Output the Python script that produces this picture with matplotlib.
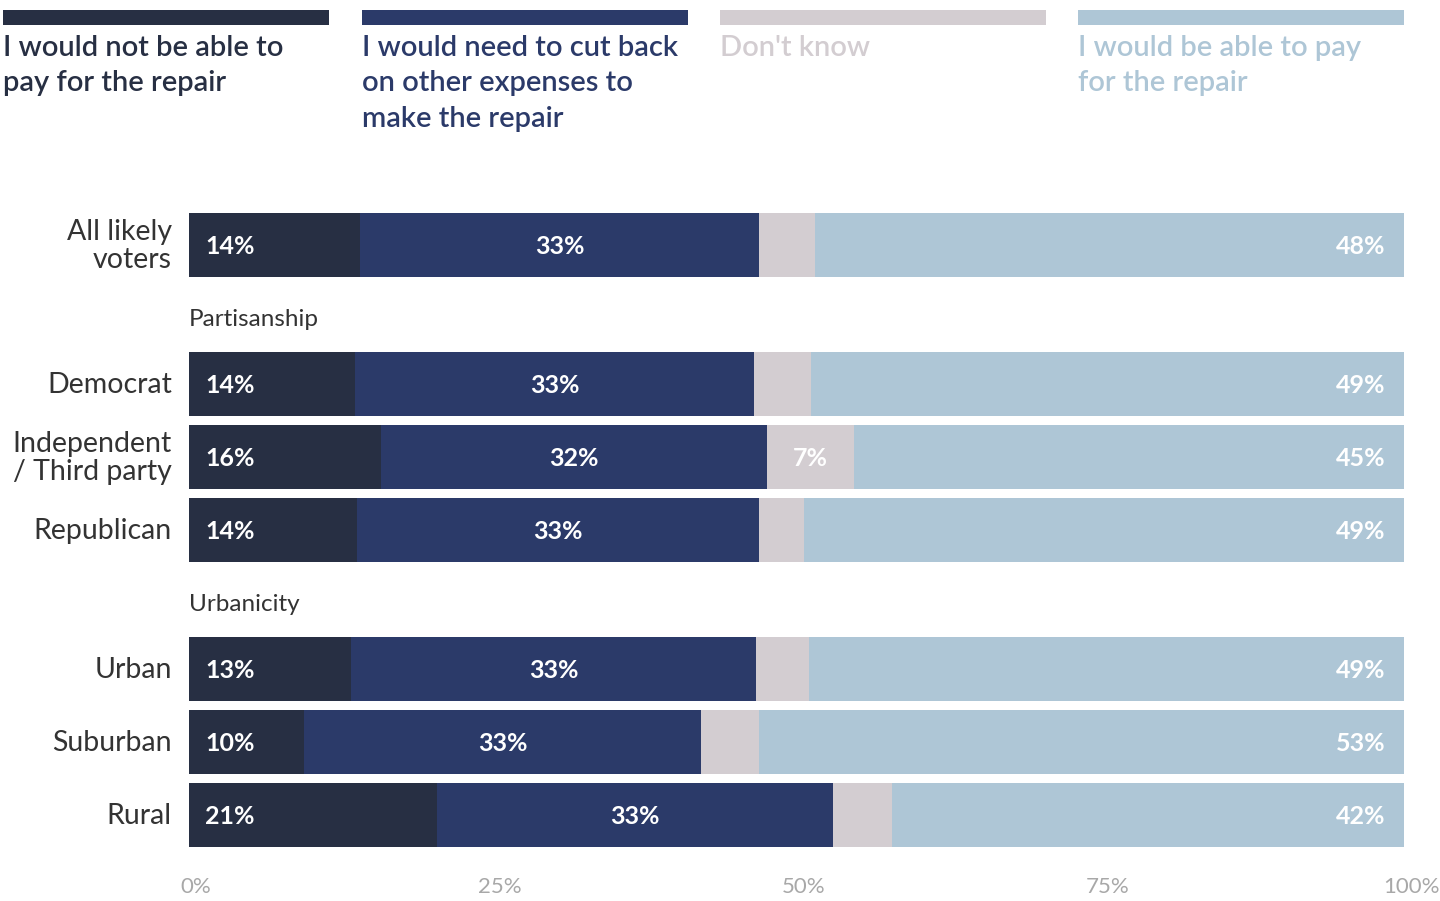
import matplotlib
matplotlib.use('Agg')
import matplotlib.pyplot as plt
import matplotlib.transforms as mtransforms
from matplotlib.patches import Rectangle
###############################################################################
plt.rcParams['font.family'] = ['Lato', 'DejaVu Sans']

categories = ['All likely\nvoters', 'Democrat', 'Independent\n/ Third party', 'Republican',
              'Urban', 'Suburban', 'Rural']
groups = ['', 'Partisanship', 'Partisanship', 'Partisanship',
          'Urbanicity', 'Urbanicity', 'Urbanicity']

series_names = ['I would not be able to\npay for the repair',
                'I would need to cut back\non other expenses to\nmake the repair',
                "Don't know",
                'I would be able to pay\nfor the repair']

cannot_pay = [14.1, 13.7, 15.8, 13.8, 13.3, 9.5, 20.4]
cut_back = [32.8, 32.8, 31.8, 33.1, 33.4, 32.6, 32.6]
dont_know = [4.6, 4.7, 7.1, 3.7, 4.3, 4.8, 4.9]
able_pay = [48.5, 48.8, 45.3, 49.4, 49.1, 53.1, 42.1]

cannot_lbl = [14, 14, 16, 14, 13, 10, 21]
cut_lbl = [33, 33, 32, 33, 33, 33, 33]
dk_lbl = [None, None, 7, None, None, None, None]
able_lbl = [48, 49, 45, 49, 49, 53, 42]

x_ticks = [0, 25, 50, 75, 100]
###############################################################################
COLORS = ['#272f43', '#2b3a69', '#d3cdd1', '#aec6d6']
TEXT = '#333333'

fig = plt.figure(figsize=(14.4, 9.01), dpi=100)
W, H = 1440, 901
ax = fig.add_axes([189 / W, (H - 860) / H, 1215 / W, 660 / H])

# row positions (units of one row pitch), with room for group headers
ypos, headers = [], []
y = 0.0
for i, g in enumerate(groups):
    if i > 0:
        if g != groups[i - 1]:
            headers.append((ypos[-1] + 1.02, g))
            y = ypos[-1] + 1.904
        else:
            y = ypos[-1] + 1.0
    ypos.append(y)

series = [cannot_pay, cut_back, dont_know, able_pay]
lefts = [0.0] * len(categories)
for s, vals in enumerate(series):
    ax.barh(ypos, vals, left=lefts, height=0.877, color=COLORS[s], linewidth=0)
    lefts = [l + v for l, v in zip(lefts, vals)]

for i, yy in enumerate(ypos):
    ty = yy + 0.025
    ax.text(1.35, ty, f'{cannot_lbl[i]}%', color='white', fontsize=18,
            fontweight='bold', ha='left', va='center')
    c = cannot_pay[i] + cut_back[i] / 2
    ax.text(c, ty, f'{cut_lbl[i]}%', color='white', fontsize=18,
            fontweight='bold', ha='center', va='center')
    if dk_lbl[i] is not None:
        c = cannot_pay[i] + cut_back[i] + dont_know[i] / 2
        ax.text(c, ty, f'{dk_lbl[i]}%', color='white', fontsize=18,
                fontweight='bold', ha='center', va='center')
    ax.text(98.5, ty, f'{able_lbl[i]}%', color='white', fontsize=18,
            fontweight='bold', ha='right', va='center')
    ax.text(-1.4, yy + 0.02, categories[i], color=TEXT, fontsize=20.5, ha='right',
            va='center', multialignment='right', linespacing=1.1)

for hy, name in headers:
    ax.text(0, hy, name, color=TEXT, fontsize=17.5, ha='left', va='center')

ax.set_xlim(0, 100)
ax.set_ylim(8.425, -0.616)
ax.set_xticks(x_ticks)
ax.set_xticklabels([f'{t}%' for t in x_ticks], color='#a8a8a8', fontsize=16)
ax.tick_params(axis='x', length=0, pad=12)
shift = mtransforms.ScaledTranslation(7 / 100, 0, fig.dpi_scale_trans)
for lbl in ax.get_xticklabels():
    lbl.set_transform(lbl.get_transform() + shift)
ax.set_yticks([])
for sp in ax.spines.values():
    sp.set_visible(False)

# legend: colour bar with text beneath each
leg_x = [3, 362, 720, 1078]
for s, name in enumerate(series_names):
    fig.patches.append(Rectangle((leg_x[s] / W, 1 - 25 / H), 326 / W, 15 / H,
                                 transform=fig.transFigure, color=COLORS[s],
                                 linewidth=0))
    fig.text(leg_x[s] / W, 1 - 35 / H, name, color=COLORS[s], fontsize=21,
             fontweight='semibold', ha='left', va='top', linespacing=1.45)

plt.savefig('out.png', dpi=100)
print('finished')
